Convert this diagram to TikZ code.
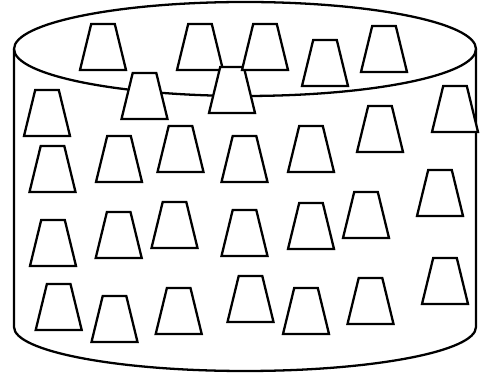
\documentclass[tikz,border=0pt]{standalone}
\usepackage{tikz}

\begin{document}
\begin{tikzpicture}[
          x=0.02cm, y=0.02cm,
          wall/.style={draw=black, line width=1.3pt},
          cup/.style={draw=black, fill=white, line width=1.3pt}
        ]
        \useasboundingbox (0,0) rectangle (483,374);

        % cylinder
        \draw[wall] (245,325) ellipse[x radius=231, y radius=47];
        \draw[wall] (14,325) -- (14,47)
          arc[start angle=180, end angle=360, x radius=231, y radius=44]
          -- (476,325);

        % cups: base centre (x, y)
        \foreach \cx/\cy in {103/304, 200/304, 144.5/255, 47/238, 52.5/182,
                             119/192, 180.5/202, 232/261, 244.5/192, 265/304,
                             325/288, 384/302, 455/242, 380/222, 311/202,
                             440/158, 53/108, 118.7/116, 174.5/126, 244.5/118,
                             58.7/44, 114.5/32, 178.7/40, 250.5/52, 311/125,
                             366/136, 445/70, 306/40, 370.5/50}
          \draw[cup] (\cx-23,\cy) -- (\cx+23,\cy) -- (\cx+11.8,\cy+46)
            -- (\cx-11.8,\cy+46) -- cycle;
      \end{tikzpicture}
\end{document}
